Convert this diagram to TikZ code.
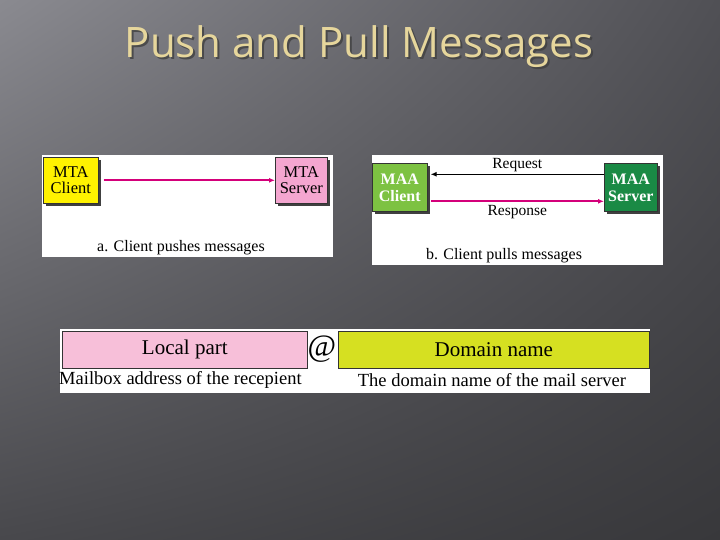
\documentclass[tikz,border=0pt]{standalone}
\usepackage{fontspec}
\setmainfont{Liberation Serif}
\newfontfamily\titlefont{Open Sans}
\usetikzlibrary{arrows.meta,shadows,shadings}
\definecolor{bgUL}{HTML}{8A8A90}
\definecolor{bgUR}{HTML}{505055}
\definecolor{bgLL}{HTML}{48484C}
\definecolor{bgLR}{HTML}{38383B}
\definecolor{titlecol}{HTML}{E6D69C}
\definecolor{mtayellow}{HTML}{FFF200}
\definecolor{mtapink}{HTML}{F4A6D0}
\definecolor{maalight}{HTML}{7DC242}
\definecolor{maadark}{HTML}{1A8A45}
\definecolor{arrowmag}{HTML}{D4007A}
\definecolor{localpink}{HTML}{F7BFD9}
\definecolor{domainyel}{HTML}{D6E021}
\tikzset{
  panel/.style={fill=white, draw=none},
  boxstyle/.style={draw=black!80, line width=0.6pt, anchor=north west, inner sep=1pt,
    align=center, font=\fontsize{16.5}{16}\selectfont,
    drop shadow={shadow xshift=3pt, shadow yshift=-3pt, fill=black!75, opacity=1}},
  maabox/.style={boxstyle, text=white, font=\fontsize{16}{17}\selectfont\bfseries},
  capt/.style={font=\fontsize{16}{16}\selectfont, inner sep=0pt},
  arrlabel/.style={font=\fontsize{15.5}{16}\selectfont, inner sep=0pt},
  addrbox/.style={draw=black!80, line width=0.6pt, anchor=north west, inner sep=0pt,
    font=\fontsize{21}{21}\selectfont},
  addrlabel/.style={font=\fontsize{18.5}{19}\selectfont, inner sep=0pt},
  link/.style={line width=1.6pt, -{Latex[length=6pt,width=5pt]}}
}
\begin{document}
\begin{tikzpicture}[x=1pt,y=-1pt]
\useasboundingbox (0,0) rectangle (720,540);
\shade[upper left=bgUL, upper right=bgUR, lower left=bgLL, lower right=bgLR] (0,0) rectangle (720,540);
% title
\node[font=\titlefont\fontsize{42}{42}\selectfont, text=black!75, opacity=0.8] at (361,49) {Push and Pull Messages};
\node[font=\titlefont\fontsize{42}{42}\selectfont, text=titlecol] (title) at (359,47) {Push and Pull Messages};
% panel a
\fill[panel] (42,155) rectangle (333,257);
\node[boxstyle, fill=mtayellow, minimum width=55pt, minimum height=46pt] (mtac) at (43,157) {MTA\\Client};
\node[boxstyle, fill=mtapink, minimum width=52pt, minimum height=46pt] (mtas) at (275,157) {MTA\\Server};
\draw[link, draw=arrowmag, fill=arrowmag] ([xshift=5pt]mtac.east) -- (mtas.west);
\node[capt] (capa) at (181,248) {a. Client pushes messages};
% panel b
\fill[panel] (372,155) rectangle (663,265);
\node[maabox, fill=maalight, minimum width=55pt, minimum height=48pt] (maac) at (372,163) {MAA\\Client};
\node[maabox, fill=maadark, minimum width=53pt, minimum height=48pt] (maas) at (604,163) {MAA\\Server};
\draw[link, draw=black, fill=black, line width=1.4pt] ([yshift=13pt]maas.west) -- ([yshift=13pt,xshift=3pt]maac.east) node[midway, above=2pt, arrlabel] (req) {Request};
\draw[link, draw=arrowmag, fill=arrowmag] ([yshift=-14pt,xshift=3pt]maac.east) -- ([yshift=-14pt]maas.west) node[midway, below=3pt, arrlabel] (resp) {Response};
\node[capt] (capb) at (504,256) {b. Client pulls messages};
% address panel
\fill[panel] (60,329) rectangle (650,393);
\node[addrbox, fill=localpink, minimum width=245pt, minimum height=37pt] (local) at (62,331) {Local part};
\node[font=\fontsize{31}{31}\selectfont, inner sep=0pt] (at) at (322,349) {@};
\node[addrbox, fill=domainyel, minimum width=311pt, minimum height=37pt] (domain) at (338,331) {Domain name};
\node[addrlabel, anchor=west] (mbox) at (59,380) {Mailbox address of the recepient};
\node[addrlabel] (dname) at (492,380) {The domain name of the mail server};
\end{tikzpicture}
\end{document}
